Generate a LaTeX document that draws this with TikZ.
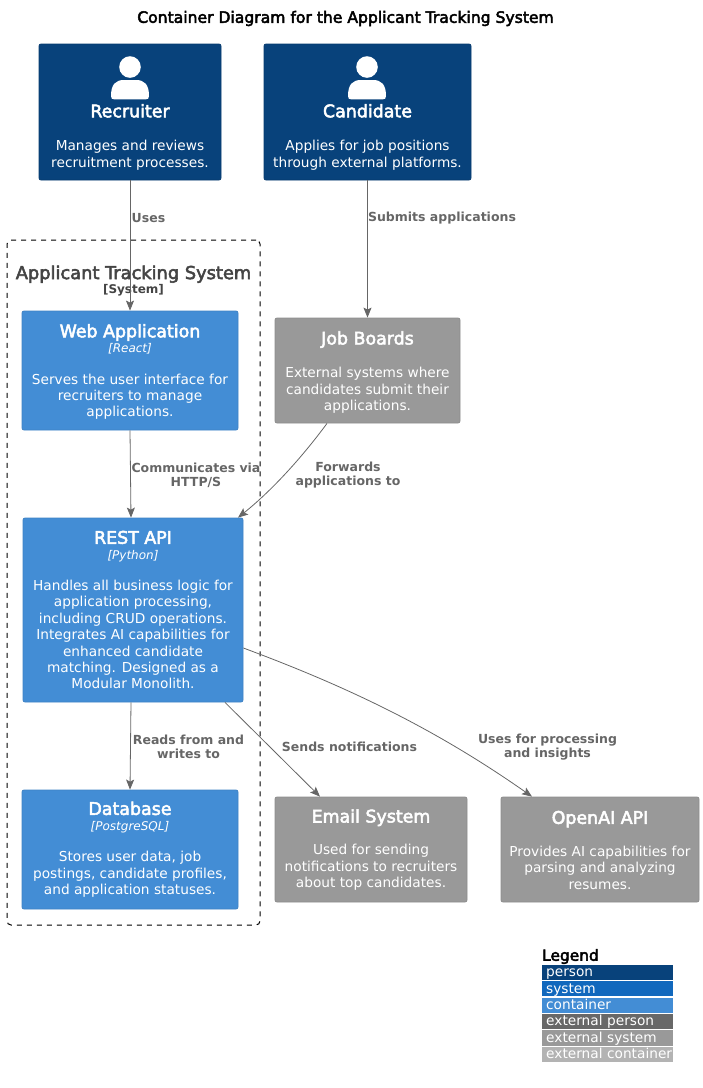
\documentclass[tikz,border=0pt]{standalone}
\usepackage{fontspec}
\setmainfont{DejaVu Sans}
\newfontfamily\namefont[FakeBold=3]{DejaVu Sans}
\usetikzlibrary{arrows.meta}
\definecolor{cperson}{HTML}{08427B}
\definecolor{csystem}{HTML}{1168BD}
\definecolor{ccontainer}{HTML}{438DD5}
\definecolor{cextperson}{HTML}{686868}
\definecolor{cextsystem}{HTML}{999999}
\definecolor{cextcontainer}{HTML}{B3B3B3}
\definecolor{clabel}{HTML}{666666}
\definecolor{cbound}{HTML}{444444}
\newcommand{\nm}[1]{{\namefont\fontsize{17.4}{19}\selectfont #1}}
\newcommand{\tech}[1]{{\fontsize{12}{14}\itshape\selectfont #1}}
\newcommand{\up}[1]{\rule{0pt}{#1pt}}
\tikzset{
  x=1pt,y=-1pt,
  box/.style={draw,line width=.8pt,rounded corners=2pt,text=white,align=center,inner sep=0pt,
     font=\fontsize{13.7}{16.4}\selectfont},
  personbox/.style={box,fill=cperson,draw=cperson!90!black},
  contbox/.style={box,fill=ccontainer,draw=ccontainer!92!black},
  extbox/.style={box,fill=cextsystem,draw=cextsystem!92!black},
  boxtext/.style={text=white,align=center,inner sep=0pt,font=\fontsize{13.7}{16.4}\selectfont},
  rel/.style={draw=clabel,line width=.8pt,-{Stealth[length=10pt,width=8pt,inset=2pt,fill=clabel]}},
  rlabel/.style={text=clabel,align=center,inner sep=0pt,font=\fontsize{12.5}{14}\bfseries\selectfont},
  legrow/.style={text=white,anchor=west,inner ysep=0pt,inner xsep=4pt,text width=123pt,minimum height=15.3pt,
     text height=11pt,text depth=2.4pt,font=\fontsize{13.7}{16}\selectfont,align=left},
  icon/.style={fill=white,draw=none},
}
\newcommand{\personicon}[2]{%
  \fill[icon] (#1,#2) circle (10.8);
  \fill[icon] (#1-19,#2+29) .. controls (#1-19,#2+17) and (#1-14,#2+13) .. (#1-6,#2+13) -- (#1+6,#2+13)
     .. controls (#1+14,#2+13) and (#1+19,#2+17) .. (#1+19,#2+29)
     .. controls (#1+19,#2+31.5) and (#1+18,#2+32.3) .. (#1+16,#2+32.3) -- (#1-16,#2+32.3)
     .. controls (#1-18,#2+32.3) and (#1-19,#2+31.5) .. (#1-19,#2+29) -- cycle;
}
\begin{document}
\begin{tikzpicture}
\useasboundingbox (0,0) rectangle (703,1088);
\node[inner sep=0pt,text=black] (title) at (345.5,18.5) {\namefont\fontsize{15.6}{16}\selectfont Container Diagram for the Applicant Tracking System};

\node[draw=black,line width=1pt,dash pattern=on 5pt off 5pt,rounded corners=4pt,minimum width=253pt,minimum height=685pt,inner sep=0pt] (boundary) at (133.5,582.5) {};
\node[inner sep=0pt,text=cbound,align=center] (boundlabel) at (133.5,281) {{\namefont\fontsize{17.8}{19}\selectfont Applicant Tracking System}\\[1pt]{\fontsize{12}{14}\bfseries\selectfont [System]}};

\node[personbox,minimum width=182pt,minimum height=136pt] (recruiter) at (130,112) {};
\node[boxtext] (recruitertext) at (130,137) {\nm{Recruiter}\\[17pt]Manages and reviews\\recruitment processes.};
\node[personbox,minimum width=207pt,minimum height=136pt] (candidate) at (367.5,112) {};
\node[boxtext] (candidatetext) at (367.5,137) {\nm{Candidate}\\[17pt]Applies for job positions\\through external platforms.};
\personicon{130}{67}
\personicon{367}{67}

\node[contbox,minimum width=216pt,minimum height=119pt] (web) at (130,370.5) {\up{16}\nm{Web Application}\\[-1pt]\tech{[React]}\\[15pt]Serves the user interface for\\recruiters to manage\\applications.};
\node[contbox,minimum width=220pt,minimum height=184pt] (api) at (133,610) {\nm{REST API}\\[-1pt]\tech{[Python]}\\[15pt]Handles all business logic for\\application processing,\\including CRUD operations.\\Integrates AI capabilities for\\enhanced candidate\\matching. Designed as a\\Modular Monolith.};
\node[contbox,minimum width=216pt,minimum height=119pt] (db) at (130,849.5) {\nm{Database}\\[-1pt]\tech{[PostgreSQL]}\\[15pt]Stores user data, job\\postings, candidate profiles,\\and application statuses.};
\node[extbox,minimum width=185pt,minimum height=105pt] (jobs) at (367.5,370.5) {\up{17}\nm{Job Boards}\\[17pt]External systems where\\candidates submit their\\applications.};
\node[extbox,minimum width=192pt,minimum height=105pt] (email) at (371,849.5) {\up{14}\nm{Email System}\\[16pt]Used for sending\\notifications to recruiters\\about top candidates.};
\node[extbox,minimum width=198pt,minimum height=105pt] (openai) at (600,849.5) {\up{14}\nm{OpenAI API}\\[16pt]Provides AI capabilities for\\parsing and analyzing\\resumes.};

\draw[rel] (recruiter.south) -- (web.north);
\draw[rel] (candidate.south) -- (jobs.north);
\draw[rel] (web.south) -- ([xshift=-2pt]api.north);
\draw[rel] ([xshift=-2pt]api.south) -- (db.north);
\draw[rel] ([xshift=-40.5pt]jobs.south) .. controls (300,460) and (270,492) .. ([xshift=105pt]api.north);
\draw[rel] ([xshift=92pt]api.south) -- ([xshift=-51pt]email.north);
\draw[rel] ([yshift=-38pt]api.east) .. controls (340,684) and (430,725) .. ([xshift=-68pt]openai.north);

\node[rlabel] (l1) at (148.5,218) {Uses};
\node[rlabel] (l2) at (442,218) {Submits applications};
\node[rlabel] (l3) at (196,475) {Communicates via\\HTTP/S};
\node[rlabel] (l4) at (348,475) {Forwards\\applications to};
\node[rlabel] (l5) at (188.5,747) {Reads from and\\writes to};
\node[rlabel] (l6) at (349.5,747) {Sends notifications};
\node[rlabel] (l7) at (547.5,747) {Uses for processing\\and insights};

\node[anchor=west,inner sep=0pt,text=black] (legend) at (542,956.5) {\namefont\fontsize{15.4}{16}\selectfont Legend};
\node[legrow,fill=cperson] (lg1) at (542,972.5) {\mbox{person}};
\node[legrow,fill=csystem] (lg2) at (542,988.7) {\mbox{system}};
\node[legrow,fill=ccontainer] (lg3) at (542,1005.2) {\mbox{container}};
\node[legrow,fill=cextperson] (lg4) at (542,1021.3) {\mbox{external person}};
\node[legrow,fill=cextsystem] (lg5) at (542,1038) {\mbox{external system}};
\node[legrow,fill=cextcontainer] (lg6) at (542,1054.3) {\mbox{external container}};
\end{tikzpicture}
\end{document}
